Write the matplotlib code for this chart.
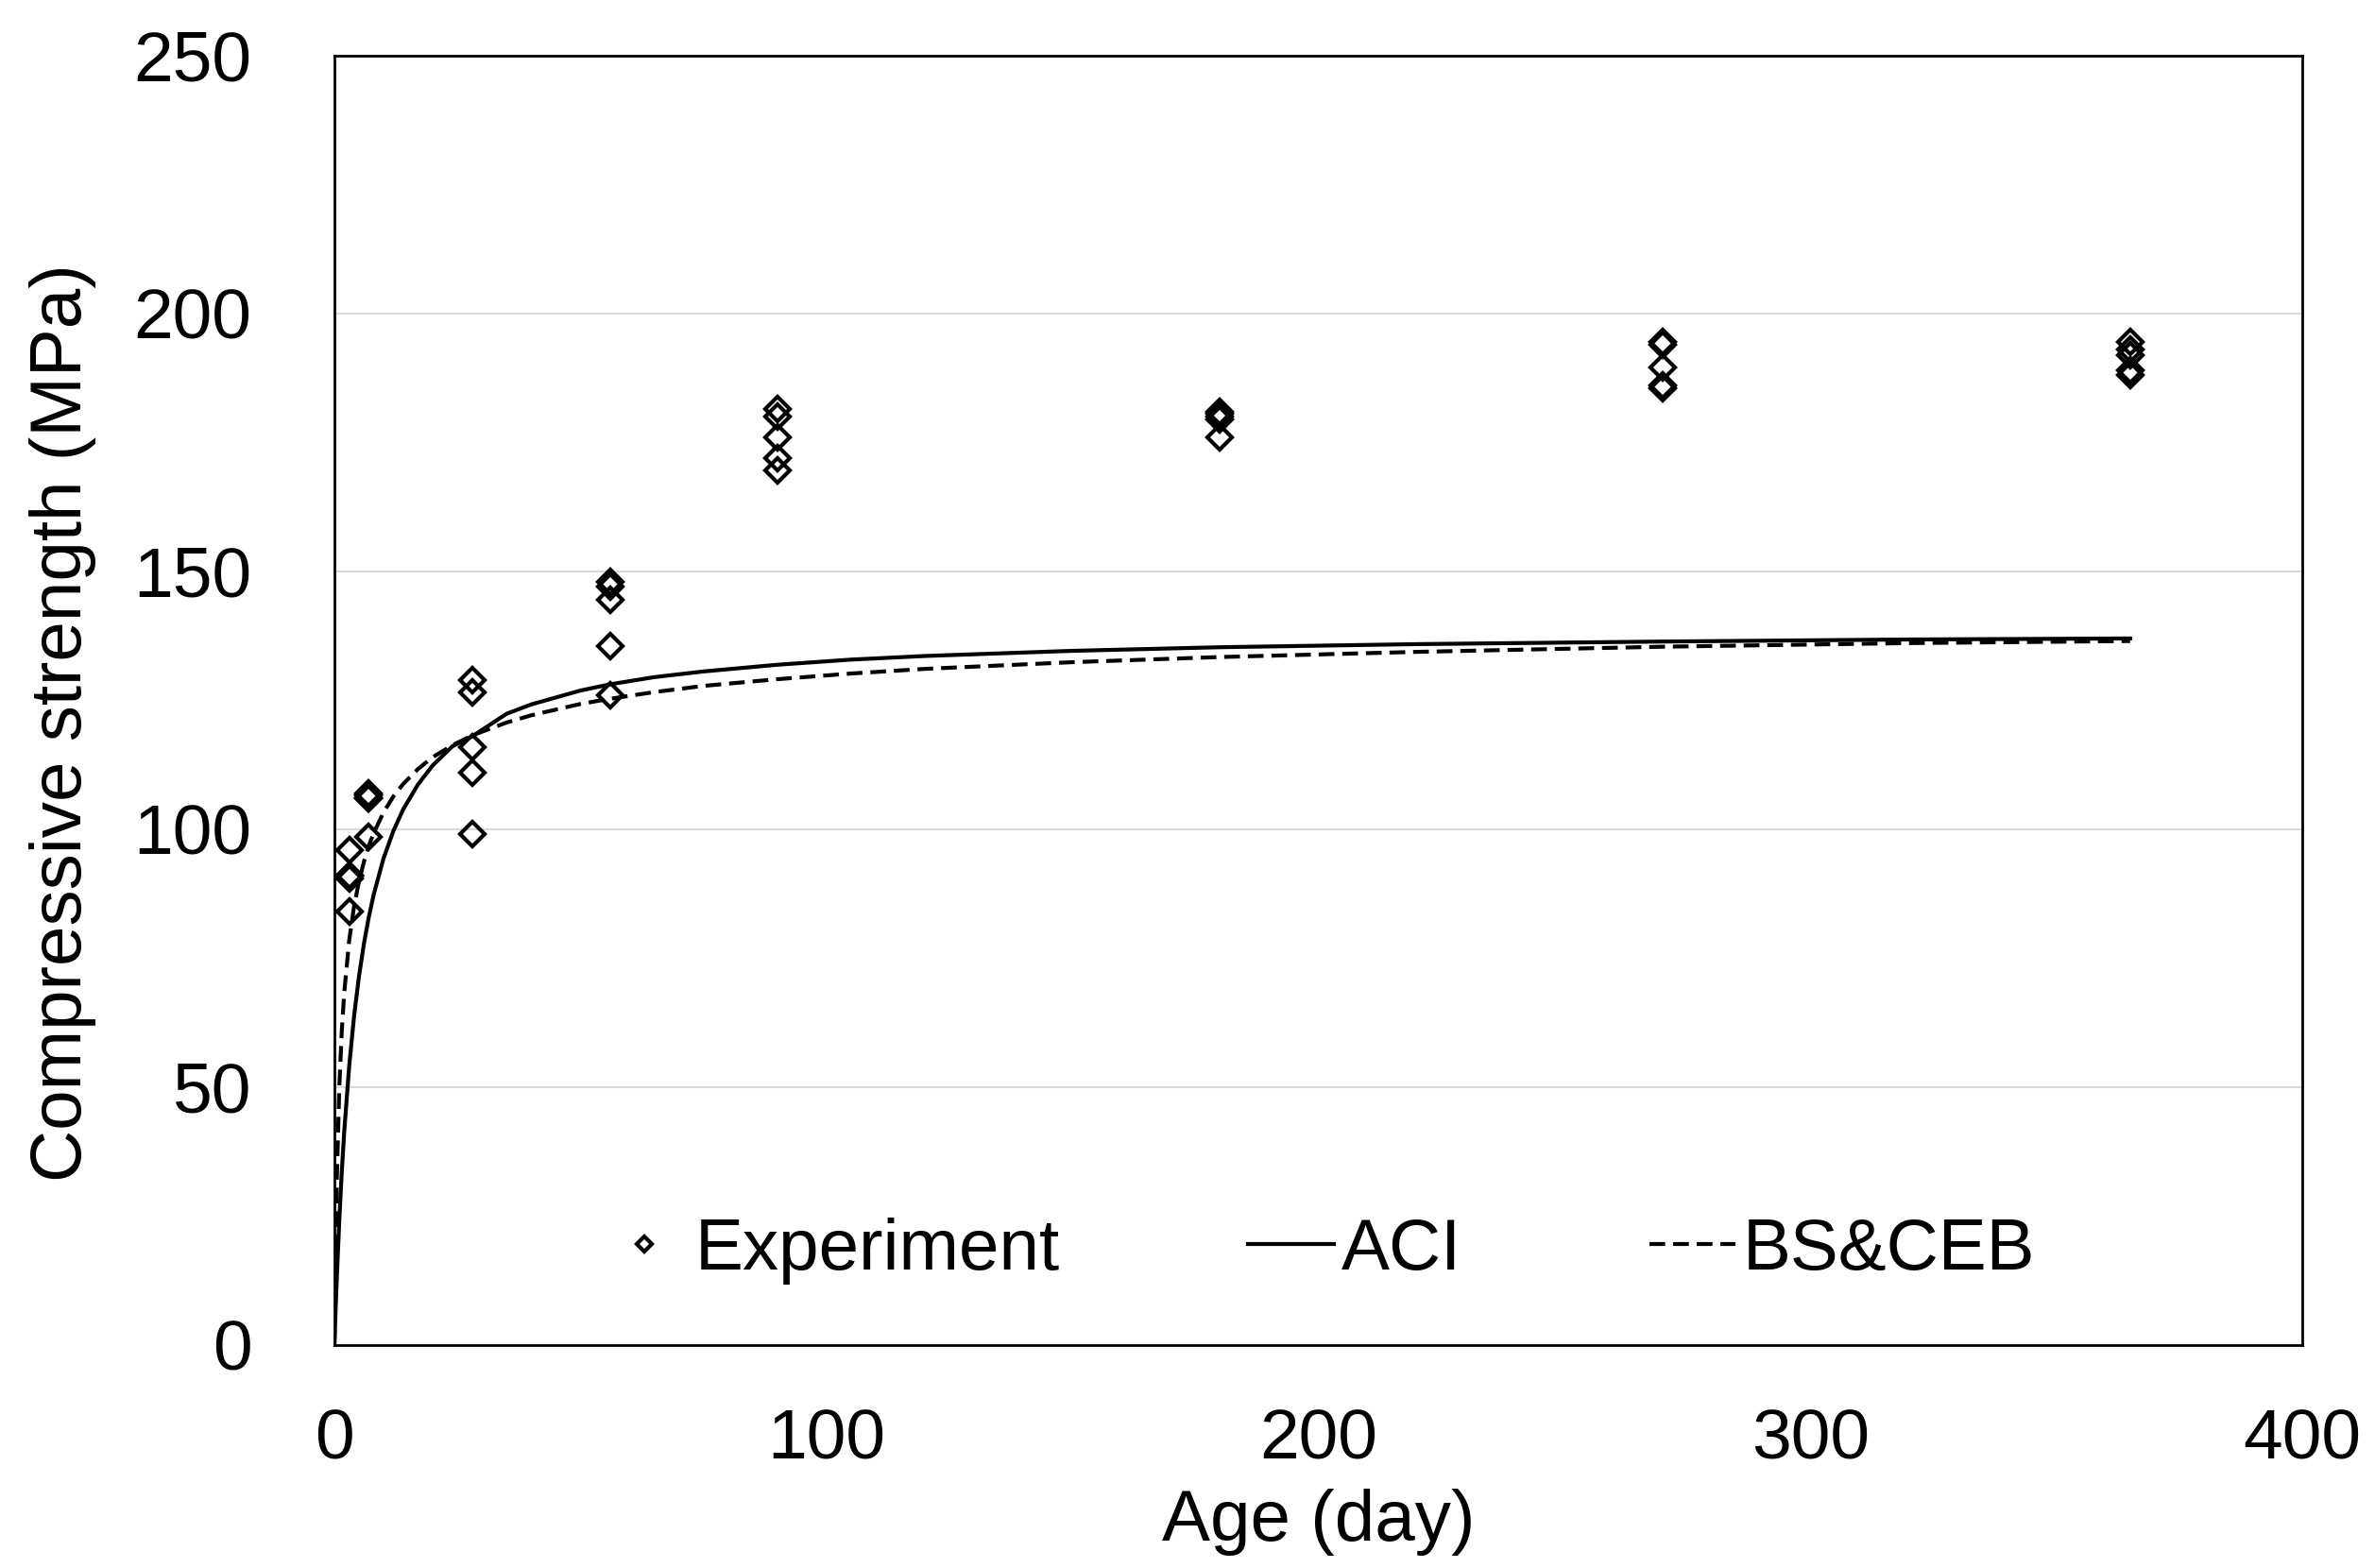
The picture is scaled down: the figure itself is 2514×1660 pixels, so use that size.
import matplotlib.pyplot as plt

plt.rcParams['font.family'] = ['Liberation Sans', 'DejaVu Sans']

# experiment: age (day) and measured compressive strength (MPa)
exp_age = [3, 3, 3, 3, 3,
           7, 7, 7, 7, 7,
           28, 28, 28, 28, 28,
           56, 56, 56, 56, 56,
           90, 90, 90, 90, 90,
           180, 180, 180, 180, 180,
           270, 270, 270, 270, 270,
           365, 365, 365, 365, 365]
exp_strength = [96, 91, 91, 90.5, 84,
                107, 106.5, 106, 106, 98.5,
                129, 126.5, 116, 111, 99,
                148, 147, 144.5, 135.5, 126,
                181.5, 180, 176, 172, 169.5,
                181, 180.5, 180, 179.5, 176,
                194.5, 194, 189.5, 186, 185.5,
                194.5, 193, 192, 189, 188]

# model curves
aci_age = [0, 0.25, 0.5, 1, 1.5, 2, 3, 4, 5, 6, 7, 8, 10, 12, 14, 17, 20, 24, 28,
           35, 40, 50, 56, 65, 75, 90, 105, 120, 150, 180, 220, 270, 320, 365]
aci_strength = [0, 7.0, 13.3, 24.3, 33.6, 41.4, 54.0, 63.8, 71.5, 77.8, 83.0, 87.4,
                94.4, 99.7, 103.9, 108.7, 112.4, 116.1, 118.0, 122.4, 124.2, 126.9,
                128.1, 129.5, 130.6, 131.9, 132.9, 133.6, 134.6, 135.3, 135.9,
                136.4, 136.8, 137.0]

bs_age = [0, 0.1, 0.25, 0.5, 1, 1.5, 2, 3, 4, 5, 6, 7, 8, 10, 12, 14, 17, 20, 24, 28,
          35, 40, 50, 56, 65, 75, 90, 105, 120, 150, 180, 220, 270, 320, 365]
bs_strength = [0, 5.1, 17.4, 32.3, 50.1, 60.9, 68.3, 78.4, 85.1, 89.9, 93.7, 96.8,
               99.3, 103.3, 106.4, 108.8, 111.7, 114.0, 116.3, 118.2, 120.7, 122.1,
               124.3, 125.3, 126.6, 127.8, 129.1, 130.2, 131.1, 132.4, 133.4, 134.4,
               135.4, 136.1, 136.5]

x_ticks = [0, 100, 200, 300, 400]
y_ticks = [0, 50, 100, 150, 200, 250]

fig = plt.figure(figsize=(25.14, 16.6), dpi=100)
ax = fig.add_axes([0.1408, 0.1422, 0.8286, 0.8223])

ax.plot(exp_age, exp_strength, linestyle='none', marker='D', markersize=13.5,
        markerfacecolor='none', markeredgecolor='black', markeredgewidth=3,
        label='Experiment', zorder=3)
ax.plot(aci_age, aci_strength, color='black', linewidth=3, label='ACI')
ax.plot(bs_age, bs_strength, color='black', linewidth=3, dashes=(4, 2),
        label='BS&CEB')

ax.set_xlim(0, 400)
ax.set_ylim(0, 250)
ax.set_xticks(x_ticks)
ax.set_yticks(y_ticks)
ax.tick_params(axis='both', length=0, labelsize=54)
ax.tick_params(axis='y', pad=63)
ax.tick_params(axis='x', pad=48)

for y in y_ticks[1:-1]:
    ax.axhline(y, color='#d9d9d9', linewidth=1.5, zorder=0)

for spine in ax.spines.values():
    spine.set_linewidth(2)
    spine.set_color('black')

ax.set_xlabel('Age (day)', fontsize=55, labelpad=12)
ax.set_ylabel('Compressive strength (MPa)', fontsize=55)
ax.yaxis.set_label_coords(-0.121, 0.483)

ax.legend(loc='center', bbox_to_anchor=(0.5, 0.073), ncol=3, frameon=False,
          fontsize=55, handlelength=1.2, handletextpad=0.1, columnspacing=2.6,
          markerscale=0.6)

fig.savefig('out.png', dpi=100)
